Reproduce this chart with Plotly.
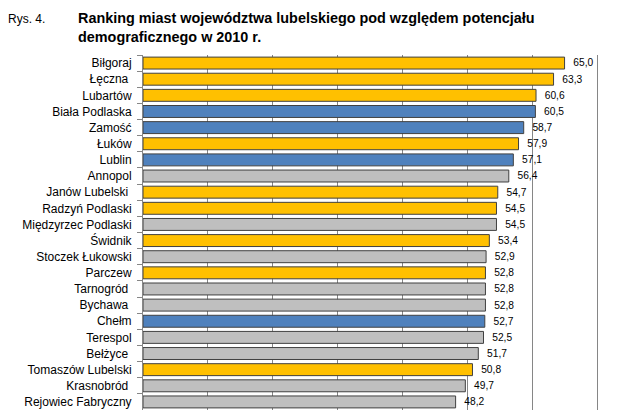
import plotly.graph_objects as go

cities = ["Biłgoraj", "Łęczna\u00a0", "Lubartów", "Biała Podlaska", "Zamość", "Łuków", "Lublin",
          "Annopol", "Janów Lubelski\u00a0", "Radzyń Podlaski", "Międzyrzec Podlaski", "Świdnik",
          "Stoczek Łukowski", "Parczew", "Tarnogród\u00a0", "Bychawa\u00a0", "Chełm", "Terespol",
          "Bełżyce\u00a0", "Tomaszów Lubelski", "Krasnobród\u00a0", "Rejowiec Fabryczny"]
values = [65.0, 63.3, 60.6, 60.5, 58.7, 57.9, 57.1, 56.4, 54.7, 54.5, 54.5, 53.4,
          52.9, 52.8, 52.8, 52.8, 52.7, 52.5, 51.7, 50.8, 49.7, 48.2]
# y = yellow, b = blue, g = gray
groups = ["y", "y", "y", "b", "b", "y", "b", "g", "y", "y", "g", "y",
          "g", "y", "g", "g", "b", "g", "g", "y", "g", "g"]

palette = {"y": "#FFC000", "b": "#4F81BD", "g": "#BFBFBF"}
colors = [palette[g] for g in groups]

fig = go.Figure(go.Bar(
    x=values, y=cities, orientation="h",
    marker=dict(color=colors, line=dict(color="#404040", width=1)),
    text=["\u00a0\u00a0" + f"{v:.1f}".replace(".", ",") for v in values],
    textposition="outside", cliponaxis=False,
    textfont=dict(family="Liberation Sans, Arial", size=12, color="#000000"),
))

fig.update_layout(
    width=629, height=410,
    margin=dict(l=143, r=32, t=55, b=0),
    plot_bgcolor="white", paper_bgcolor="white",
    bargap=0.26, showlegend=False,
    font=dict(family="Liberation Sans, Arial", size=12, color="#000000"),
)
fig.update_xaxes(range=[0, 70], dtick=10, showticklabels=False, showgrid=True,
                 gridcolor="#868686", gridwidth=1, zeroline=False,
                 showline=False, side="top")
fig.update_yaxes(autorange="reversed", type="category", tickson="boundaries",
                 ticks="outside", ticklen=5, tickcolor="#868686", ticklabelstandoff=8,
                 showline=True, linecolor="#868686", mirror=True, showgrid=False,
                 tickfont=dict(size=12, color="#000000"))

fig.add_annotation(text="Rys. 4.", xref="paper", yref="paper", x=-137/454, y=1 + 45/355,
                   xanchor="left", yanchor="top", showarrow=False,
                   font=dict(size=12, color="#000000"))
fig.add_annotation(text="<b>Ranking miast województwa lubelskiego pod względem potencjału<br>demograficznego w 2010 r.</b>",
                   xref="paper", yref="paper", x=-67/454, y=1 + 47/355, align="left",
                   xanchor="left", yanchor="top", showarrow=False,
                   font=dict(size=14.4, color="#000000"))

fig.write_html("out.html", config={"displayModeBar": False},
               post_script="document.body.style.margin='0';")
